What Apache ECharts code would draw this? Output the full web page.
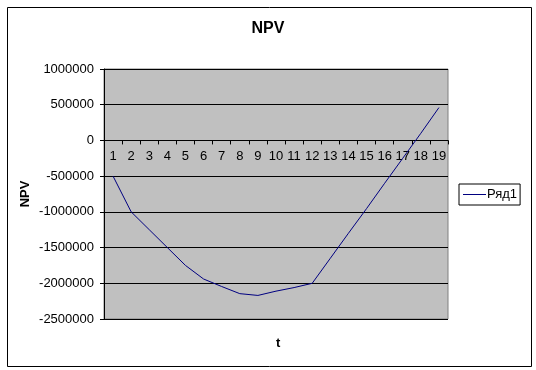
<!DOCTYPE html>
<html>
<head>
<meta charset="utf-8">
<script src="https://cdn.jsdelivr.net/npm/echarts@6/dist/echarts.min.js"></script>
<style>
html,body{margin:0;padding:0;background:#fff;}
#c{width:536px;height:370px;}
</style>
</head>
<body>
<div id="c"></div>
<script>
var categories = ['1','2','3','4','5','6','7','8','9','10','11','12','13','14','15','16','17','18','19'];
var npvValues = [-500000,-1000000,-1250000,-1500000,-1750000,-1940000,-2045000,-2145000,-2170000,-2110000,-2060000,-2000000,-1650000,-1300000,-955000,-600000,-250000,100000,460000];
var yTickLabels = ['-2500000','-2000000','-1500000','-1000000','-500000','0','500000','1000000'];
var seriesName = 'Ряд1';
var titleText = 'NPV';
var yAxisName = 'NPV';
var xAxisName = 't';

var chart = echarts.init(document.getElementById('c'), null, {renderer:'canvas'});
var font = 'Arial, "Liberation Sans", sans-serif';
var yMin = -2500000, yMax = 1000000, gridTop = 69, gridH = 250;
// place the category axis on the zero line (as in the reference)
var zeroOffset = -gridH * (0 - yMin) / (yMax - yMin);
chart.setOption({
  animation: false,
  backgroundColor: '#fff',
  title: [
    {text: titleText, left: 'center', top: 16, textStyle: {fontFamily: font, fontSize: 16, fontWeight: 'bold', color: '#000'}},
    {text: xAxisName, left: 271, top: 332, textStyle: {fontFamily: font, fontSize: 13, fontWeight: 'bold', color: '#000'}}
  ],
  graphic: [{
    type: 'rect', left: 5, top: 5, shape: {width: 524, height: 359},
    style: {fill: 'none', stroke: '#000', lineWidth: 1}, silent: true
  }],
  legend: {
    data: [{name: seriesName, icon: 'rect'}],
    left: 459, top: 184,
    orient: 'vertical',
    itemWidth: 23, itemHeight: 1, itemGap: 0,
    padding: [4, 3, 4, 4],
    borderColor: '#000', borderWidth: 1, backgroundColor: '#fff',
    textStyle: {fontFamily: font, fontSize: 13, color: '#000', padding: [0,0,0,-4]}
  },
  grid: {
    left: 104, top: gridTop, width: 344, height: gridH,
    show: true, backgroundColor: '#C0C0C0', borderColor: '#808080', borderWidth: 1
  },
  xAxis: {
    type: 'category', data: categories, boundaryGap: true,
    position: 'bottom', offset: zeroOffset,
    axisLine: {onZero: false, lineStyle: {color: '#000', width: 1}},
    axisTick: {show: true, length: 4, lineStyle: {color: '#000'}},
    axisLabel: {color: '#000', fontFamily: font, fontSize: 13, margin: 9, interval: 0},
    splitLine: {show: false}
  },
  yAxis: {
    type: 'value', min: yMin, max: yMax, interval: 500000,
    name: yAxisName, nameLocation: 'middle', nameGap: 72, nameRotate: 90,
    nameMoveOverlap: false,
    nameTextStyle: {fontFamily: font, fontSize: 13, fontWeight: 'bold', color: '#000'},
    axisLine: {show: true, lineStyle: {color: '#000', width: 1}},
    axisTick: {show: true, length: 4, lineStyle: {color: '#000'}},
    axisLabel: {color: '#000', fontFamily: font, fontSize: 13, margin: 10,
      formatter: function(v){ var i = Math.round((v - yMin)/500000); return yTickLabels[i]; }},
    splitLine: {show: true, lineStyle: {color: '#000', width: 1}}
  },
  series: [{
    name: seriesName, type: 'line', data: npvValues,
    showSymbol: false, symbol: 'none',
    lineStyle: {color: '#000080', width: 1},
    itemStyle: {color: '#000080'}
  }]
});
</script>
</body>
</html>
